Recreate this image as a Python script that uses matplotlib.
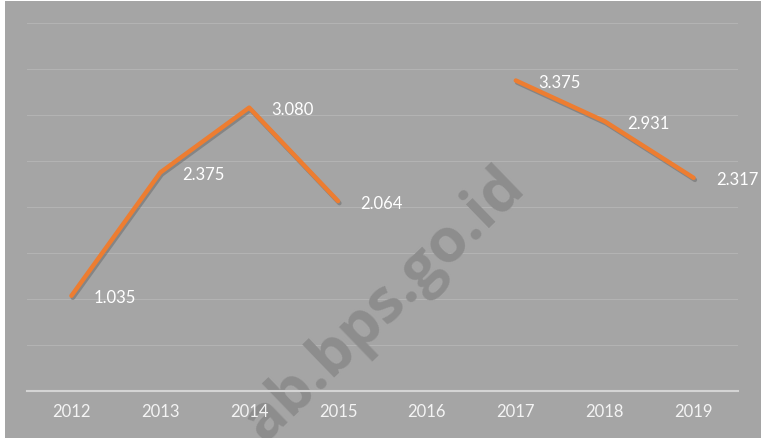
import numpy as np
import matplotlib.pyplot as plt
import matplotlib.patheffects as pe
from matplotlib.patches import Rectangle

# data
years = ['2012', '2013', '2014', '2015', '2016', '2017', '2018', '2019']
values = [1.035, 2.375, 3.080, 2.064, np.nan, 3.375, 2.931, 2.317]
labels = ['1.035', '2.375', '3.080', '2.064', '', '3.375', '2.931', '2.317']

bg = '#a5a5a5'
plt.rcParams['font.family'] = ['Lato', 'DejaVu Sans']

fig = plt.figure(figsize=(7.61, 4.39), dpi=100, facecolor='white')
# grey chart panel, behind the axes
fig.patches.append(Rectangle((5 / 761, 0), 756 / 761, 437 / 439, transform=fig.transFigure,
                             facecolor=bg, edgecolor='none', zorder=-5))

ax = fig.add_axes([27 / 761, 47 / 439, 711 / 761, 368 / 439])
ax.set_facecolor('none')

x = np.arange(len(years))
ax.set_xlim(-0.5, len(years) - 0.5)
ax.set_ylim(0, 4)
ax.set_yticks(np.arange(0.5, 4.01, 0.5))
ax.yaxis.grid(True, color='#b3b3b3', linewidth=0.8)
ax.set_axisbelow(True)
ax.tick_params(axis='y', left=False, labelleft=False)
ax.tick_params(axis='x', length=0, pad=9, labelsize=12, labelcolor='#f4f4f4')
ax.set_xticks(x)
ax.set_xticklabels(years)
for s in ['top', 'right', 'left']:
    ax.spines[s].set_visible(False)
ax.spines['bottom'].set_color('#d4d4d4')
ax.spines['bottom'].set_linewidth(1.5)
ax.xaxis.set_zorder(2)

# watermark
ax.text(0.505, 0.305, 'ab.bps.go.id', rotation=44, fontsize=44, fontweight='bold',
        color='#8d8d8d', ha='center', va='center', family='Open Sans', zorder=1,
        transform=fig.transFigure)

ax.plot(x, values, color='#ed7d31', linewidth=3.2, solid_capstyle='round',
        solid_joinstyle='round', zorder=3,
        path_effects=[pe.SimpleLineShadow(offset=(1, -1.5), shadow_color='#555555', alpha=0.4),
                      pe.Normal()])

for xi, v, lab in zip(x, values, labels):
    if lab:
        ax.annotate(lab, (xi, v), xytext=(16, -1), textcoords='offset points',
                    ha='left', va='center', fontsize=12, color='white', zorder=4)

fig.savefig('out.png', dpi=100, facecolor='white')
